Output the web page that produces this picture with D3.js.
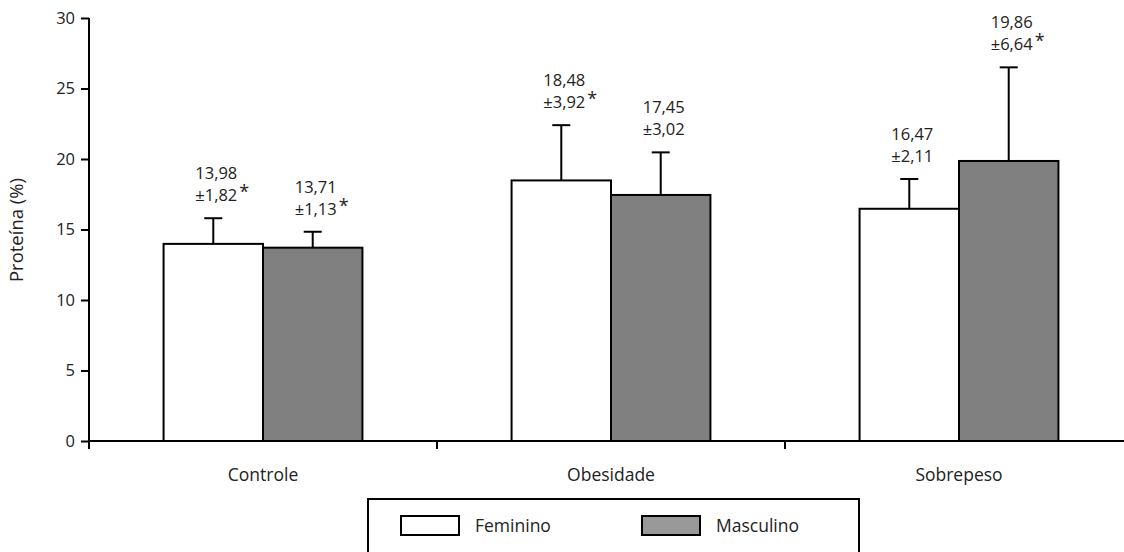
<!DOCTYPE html>
<html>
<head>
<meta charset="utf-8">
<script src="https://cdn.jsdelivr.net/npm/d3@7"></script>
<style>
  html, body { margin: 0; padding: 0; background: #fff; }
  svg { display: block; font-family: "Open Sans", "Noto Sans", sans-serif; }
</style>
</head>
<body>
<svg id="chart" width="1124" height="552"></svg>
<script>
// Protein intake (%) by nutritional group and sex: mean ± SD
const groups = ["Controle", "Obesidade", "Sobrepeso"];
const sexes = ["Feminino", "Masculino"];
const femininoMean = [13.98, 18.48, 16.47];
const femininoSD = [1.82, 3.92, 2.11];
const femininoSig = [true, true, false];
const masculinoMean = [13.71, 17.45, 19.86];
const masculinoSD = [1.13, 3.02, 6.64];
const masculinoSig = [true, false, true];
const yTicks = [0, 5, 10, 15, 20, 25, 30];

const fillBySex = { Feminino: "#ffffff", Masculino: "#808080" };
const legendFill = { Feminino: "#ffffff", Masculino: "#999999" };

const rows = [];
groups.forEach((g, i) => {
  rows.push({ group: g, sex: "Feminino", mean: femininoMean[i], sd: femininoSD[i], sig: femininoSig[i] });
  rows.push({ group: g, sex: "Masculino", mean: masculinoMean[i], sd: masculinoSD[i], sig: masculinoSig[i] });
});

const fmt = v => v.toFixed(2).replace(".", ",");

const svg = d3.select("#chart");
const plotLeft = 89, plotBottom = 441, plotTop = 18;

const x = d3.scaleBand().domain(groups).range([plotLeft, plotLeft + 3 * 348]).paddingInner(0).paddingOuter(0);
const xs = d3.scaleBand().domain(sexes).range([0, x.bandwidth()]).paddingInner(0).paddingOuter(0.75);
const y = d3.scaleLinear().domain([0, 30]).range([plotBottom, plotTop]);

// Y axis
const yAxis = svg.append("g")
  .attr("transform", `translate(${plotLeft},0)`)
  .call(d3.axisLeft(y).tickValues(yTicks).tickSize(8).tickPadding(6).tickFormat(d3.format("d")));
yAxis.select(".domain").attr("stroke", "#000").attr("stroke-width", 2).attr("d", `M0,${y(30)}V${plotBottom + 8}`);
yAxis.selectAll(".tick line").attr("stroke", "#000").attr("stroke-width", 2);
yAxis.selectAll(".tick text").attr("font-size", 16.5).attr("fill", "#222").attr("font-family", "Open Sans, sans-serif");

// Y axis title
svg.append("text")
  .attr("transform", `translate(23,230) rotate(-90)`)
  .attr("text-anchor", "middle")
  .attr("font-size", 18.5)
  .attr("fill", "#222")
  .text("Proteína (%)");

// X axis line with boundary ticks between groups
const xAxisG = svg.append("g");
xAxisG.append("line")
  .attr("x1", plotLeft).attr("x2", 1124).attr("y1", plotBottom).attr("y2", plotBottom)
  .attr("stroke", "#000").attr("stroke-width", 2);
xAxisG.selectAll(".bt")
  .data(groups.slice(1))
  .join("line")
  .attr("x1", d => x(d)).attr("x2", d => x(d))
  .attr("y1", plotBottom).attr("y2", plotBottom + 8)
  .attr("stroke", "#000").attr("stroke-width", 2);
xAxisG.selectAll(".gl")
  .data(groups)
  .join("text")
  .attr("x", d => x(d) + x.bandwidth() / 2)
  .attr("y", 481)
  .attr("text-anchor", "middle")
  .attr("font-size", 17.5)
  .attr("fill", "#222")
  .text(d => d);

// Bars
const bx = d => x(d.group) + xs(d.sex);
svg.append("g").selectAll("rect")
  .data(rows)
  .join("rect")
  .attr("x", bx)
  .attr("width", xs.bandwidth())
  .attr("y", d => y(d.mean))
  .attr("height", d => y(0) - y(d.mean))
  .attr("fill", d => fillBySex[d.sex])
  .attr("stroke", "#000")
  .attr("stroke-width", 2);

// Error bars (upper only)
const eb = svg.append("g").attr("stroke", "#000").attr("stroke-width", 2);
rows.forEach(d => {
  const cx = bx(d) + xs.bandwidth() / 2;
  eb.append("line").attr("x1", cx).attr("x2", cx).attr("y1", y(d.mean)).attr("y2", y(d.mean + d.sd));
  eb.append("line").attr("x1", cx - 9).attr("x2", cx + 9).attr("y1", y(d.mean + d.sd)).attr("y2", y(d.mean + d.sd));
});

// Value labels: mean on the first line, ±SD on the second, asterisk when significant
const lab = svg.append("g").attr("font-size", 16.5).attr("fill", "#222");
rows.forEach(d => {
  const cx = bx(d) + xs.bandwidth() / 2 + 3;
  const capY = y(d.mean + d.sd);
  lab.append("text")
    .attr("x", cx).attr("y", capY - 39)
    .attr("text-anchor", "middle")
    .text(fmt(d.mean));
  const t2 = lab.append("text")
    .attr("x", cx).attr("y", capY - 17)
    .attr("text-anchor", "middle")
    .text("±" + fmt(d.sd));
  if (d.sig) {
    const w = t2.node().getComputedTextLength();
    lab.append("text")
      .attr("x", cx + w / 2 + 2)
      .attr("y", capY - 20)
      .attr("font-size", 18)
      .text("*");
  }
});

// Legend
const lg = svg.append("g");
lg.append("rect")
  .attr("x", 368).attr("y", 499).attr("width", 491).attr("height", 70)
  .attr("fill", "#fff").attr("stroke", "#000").attr("stroke-width", 2);
const items = lg.selectAll(".li")
  .data(sexes)
  .join("g")
  .attr("transform", (d, i) => `translate(${401 + i * 241},516)`);
items.append("rect")
  .attr("width", 58).attr("height", 19)
  .attr("fill", d => legendFill[d])
  .attr("stroke", "#000").attr("stroke-width", 2);
items.append("text")
  .attr("x", 74).attr("y", 16)
  .attr("font-size", 17.5)
  .attr("fill", "#222")
  .text(d => d);
</script>
</body>
</html>
